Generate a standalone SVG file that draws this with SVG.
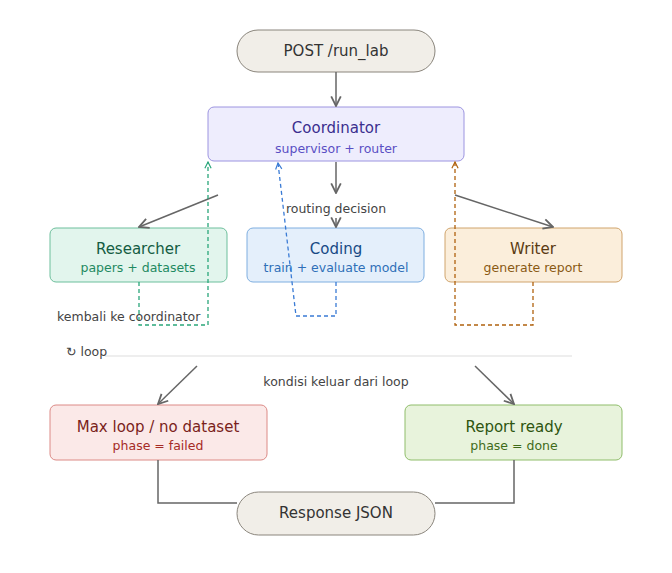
<svg xmlns="http://www.w3.org/2000/svg" width="672" height="573" viewBox="0 0 672 573">
<style>
text{font-family:"DejaVu Sans",sans-serif;text-anchor:middle}
.t{font-size:15px}.s{font-size:12.5px}.l{font-size:12.5px;fill:#444}
.a{stroke:#666;stroke-width:1.5;fill:none}
.d{stroke-width:1.3;fill:none;stroke-dasharray:4 3}
</style>
<defs>
<marker id="m" viewBox="0 0 10 10" refX="9" refY="5" markerWidth="8" markerHeight="8" orient="auto"><path d="M1,1L9,5L1,9" fill="none" stroke="#666" stroke-width="1.5"/></marker>
<marker id="mg" viewBox="0 0 10 10" refX="9" refY="5" markerWidth="6" markerHeight="6" orient="auto"><path d="M1,1L9,5L1,9" fill="none" stroke="#2aa67a" stroke-width="1.5"/></marker>
<marker id="mb" viewBox="0 0 10 10" refX="9" refY="5" markerWidth="6" markerHeight="6" orient="auto"><path d="M1,1L9,5L1,9" fill="none" stroke="#3a7bd5" stroke-width="1.5"/></marker>
<marker id="mo" viewBox="0 0 10 10" refX="9" refY="5" markerWidth="6" markerHeight="6" orient="auto"><path d="M1,1L9,5L1,9" fill="none" stroke="#b0620e" stroke-width="1.5"/></marker>
</defs>
<rect width="672" height="573" fill="#fff"/>
<g id="post"><rect x="237" y="30" width="198" height="42" rx="21" fill="#f1eee8" stroke="#8a857c"/><text class="t" x="336" y="56" fill="#333">POST /run_lab</text></g>
<g id="coordinator"><rect x="208" y="107" width="256" height="54" rx="6" fill="#eeedfd" stroke="#9c94e0"/><text class="t" x="336" y="133" fill="#3b2f8f">Coordinator</text><text class="s" x="336" y="153" fill="#5a4fc4">supervisor + router</text></g>
<g id="researcher"><rect x="50" y="228" width="177" height="54" rx="6" fill="#e2f5ed" stroke="#6dbf9c"/><text class="t" x="138" y="254" fill="#145c43">Researcher</text><text class="s" x="138" y="272" fill="#1f8a62">papers + datasets</text></g>
<g id="coding"><rect x="247" y="228" width="177" height="54" rx="6" fill="#e4effb" stroke="#7eaee0"/><text class="t" x="336" y="254" fill="#174a85">Coding</text><text class="s" x="336" y="272" fill="#2f6fb8">train + evaluate model</text></g>
<g id="writer"><rect x="445" y="228" width="177" height="54" rx="6" fill="#fbeedb" stroke="#d0a46c"/><text class="t" x="533" y="254" fill="#5a3a12">Writer</text><text class="s" x="533" y="272" fill="#8a5a14">generate report</text></g>
<g id="maxloop"><rect x="50" y="405" width="217" height="55" rx="6" fill="#fbe9e8" stroke="#dc8a86"/><text class="t" x="158" y="432" fill="#7a1f1b">Max loop / no dataset</text><text class="s" x="158" y="450" fill="#a62b26">phase = failed</text></g>
<g id="report"><rect x="405" y="405" width="217" height="55" rx="6" fill="#e8f3dc" stroke="#8fbd6a"/><text class="t" x="514" y="432" fill="#2e5510">Report ready</text><text class="s" x="514" y="450" fill="#3f6b1a">phase = done</text></g>
<g id="response"><rect x="237" y="492" width="198" height="43" rx="21.5" fill="#f1eee8" stroke="#8a857c"/><text class="t" x="336" y="518" fill="#333">Response JSON</text></g>
<g id="connectors">
<path class="a" d="M336,72V106" marker-end="url(#m)"/>
<path class="a" d="M336,162V193" marker-end="url(#m)"/>
<path class="a" d="M336,218V227" marker-end="url(#m)"/>
<path class="a" d="M218,195L139,227" marker-end="url(#m)"/>
<path class="a" d="M455,195L553,227" marker-end="url(#m)"/>
<path class="d" stroke="#2aa67a" d="M139,282V325H208V162" marker-end="url(#mg)"/>
<path class="d" stroke="#3a7bd5" d="M336,282V316H296L278,163" marker-end="url(#mb)"/>
<path class="d" stroke="#b0620e" d="M533,282V325H455V162" marker-end="url(#mo)"/>
<path class="a" d="M197,366L158,404" marker-end="url(#m)"/>
<path class="a" d="M475,366L514,404" marker-end="url(#m)"/>
<path class="a" d="M158,460V503H237"/>
<path class="a" d="M514,460V503H435"/>
<line x1="105" y1="356" x2="572" y2="356" stroke="#ddd" stroke-width="1"/>
<text class="l" x="336" y="213">routing decision</text>
<text class="l" x="57" y="321" style="text-anchor:start">kembali ke coordinator</text>
<text class="l" x="66" y="356" style="text-anchor:start">↻ loop</text>
<text class="l" x="336" y="386">kondisi keluar dari loop</text>
</g>
</svg>
